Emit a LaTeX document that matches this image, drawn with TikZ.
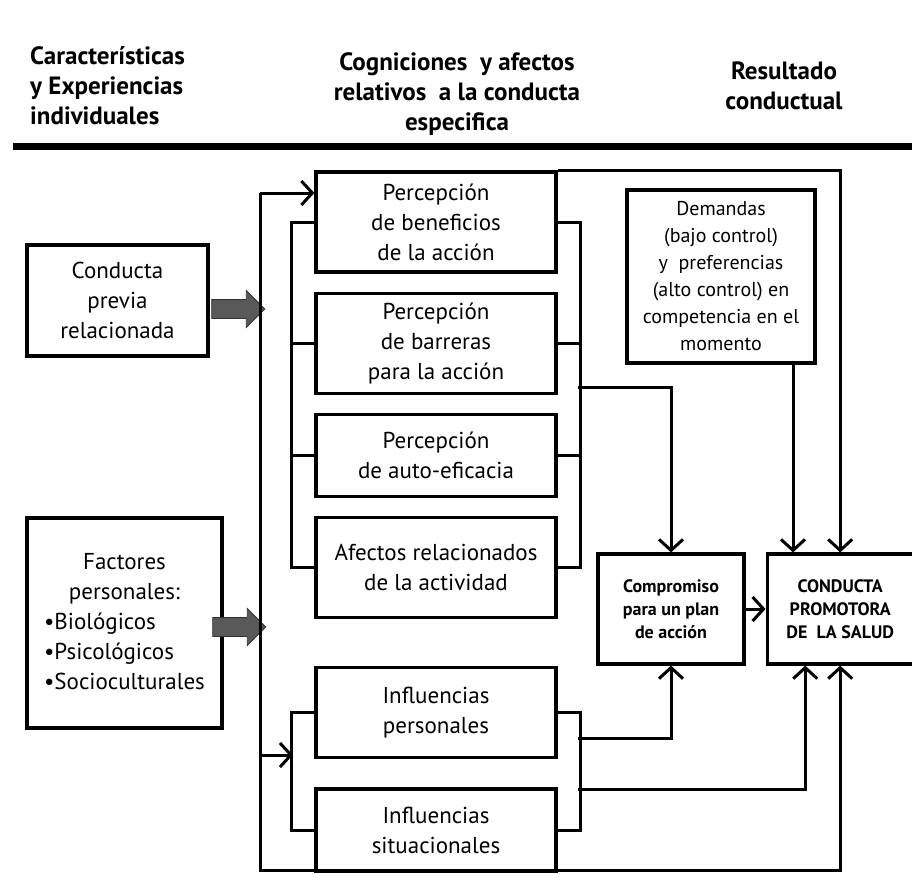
\documentclass[tikz,border=0pt]{standalone}
\usepackage{fontspec}
\setmainfont{PT Sans}
\usepackage{tikz}
\usetikzlibrary{arrows.meta,positioning,shapes.arrows}
\tikzstyle{box} = [
  draw,
  rectangle,
  line width=3.2pt,
  inner sep=0pt,
  align=center,
  font=\fontsize{23}{30}\selectfont,
]
\tikzstyle{cogbox} = [
  box,
  minimum width=240pt,
]
\tikzstyle{heading} = [
  inner sep=0pt,
  font=\bfseries\fontsize{25}{30}\selectfont,
]
\tikzstyle{fatarrow} = [
  single arrow,
  draw=black!80,
  fill=black!65,
  line width=0.8pt,
  inner xsep=0pt,
  inner ysep=9pt,
  minimum height=53pt,
  single arrow head extend=9pt,
  single arrow head indent=0pt,
]
\tikzstyle{link} = [
  line width=3pt,
]

\begin{document}
\begin{tikzpicture}[
    x=1pt,
    y=-1pt,
    >={Straight Barb[length=11pt,width=24pt]},
  ]
  \useasboundingbox (0,0) rectangle (912,873);
  % column headings
  \node[
    heading,
    anchor=west,
    align=left,
  ](hind) at (30,86) {Características\\y Experiencias\\individuales};
  \node[
    heading,
    align=center,
  ](hcog) at (457,94) {Cogniciones\ \ y afectos\\relativos\ \ a la conducta\\especifica};
  \node[
    heading,
    align=center,
  ](hres) at (784,86) {Resultado\\conductual};
  \coordinate (ruleL) at (13,146);
  \coordinate (ruleR) at (912,146);
  \draw[line width=7pt] (ruleL) -- (ruleR);
  % individual characteristics
  \node[
    box,
    minimum width=181pt,
    minimum height=111pt,
  ](previa) at (117.5,300.5) {Conducta\\previa\\relacionada};
  \node[
    box,
    minimum width=195pt,
    minimum height=210pt,
  ](factores) at (124.5,623) {%
    \begin{tabular}{@{}l@{}}
      \multicolumn{1}{@{}c@{}}{Factores}\\
      \multicolumn{1}{@{}c@{}}{personales:}\\
      •Biológicos\\
      •Psicológicos\\
      •Socioculturales
    \end{tabular}};
  \node[fatarrow](prevarrow) at (233.5,309) {};
  \node[fatarrow](factarrow) at (234.5,627) {};
  % cognitions and affects
  \node[
    cogbox,
    minimum height=100pt,
  ](benef) at (436,222) {Percepción\\de beneficios\\de la acción};
  \node[
    cogbox,
    minimum height=100pt,
    below=18pt of benef,
  ](barr) {Percepción\\de barreras\\para la acción};
  \node[
    cogbox,
    minimum height=82pt,
    below=18pt of barr,
  ](efic) {Percepción\\de auto-eficacia};
  \node[
    cogbox,
    minimum height=100pt,
    below=18pt of efic,
  ](afect) {Afectos relacionados\\de la actividad};
  \node[
    cogbox,
    minimum height=90pt,
    below=47pt of afect,
  ](inflp) {Influencias\\personales};
  \node[
    cogbox,
    minimum height=82pt,
    below=28pt of inflp,
  ](infls) {Influencias\\situacionales};
  \node[
    box,
    minimum width=188pt,
    minimum height=173pt,
    font=\fontsize{20}{27}\selectfont,
  ](dem) at (721,276.5) {Demandas\\(bajo control)\\y\ \ preferencias\\(alto control) en\\competencia en el\\momento};
  % behavioural outcome
  \node[
    box,
    minimum width=146pt,
    minimum height=110pt,
    font=\bfseries\fontsize{18}{23}\selectfont,
  ](comp) at (671,609) {Compromiso\\para un plan\\de acción};
  \node[
    box,
    minimum width=146pt,
    minimum height=110pt,
    font=\bfseries\fontsize{18}{23}\selectfont,
    right=20pt of comp,
  ](cond) {CONDUCTA\\PROMOTORA\\DE~~LA SALUD};
  % spine
  \coordinate (spinetop) at (260,193);
  \coordinate (spinemid) at (260,755);
  \coordinate (spinebot) at (260,870);
  \coordinate (inbrk) at (293,755);
  \draw[link,->] (spinetop) -- (spinetop -| benef.west);
  \draw[link,->] (spinetop) -- (spinebot) -| (cond.south);
  \draw[link,->] (spinemid) -- (inbrk);
  % brackets
  \draw[link] (benef.west) -- ++(-23,0) |- (afect.west);
  \draw[link] (benef.east) -- ++(23,0) |- (afect.east);
  \foreach \n in {barr,efic} {
    \draw[link] (\n.west) -- ++(-23,0);
    \draw[link] (\n.east) -- ++(23,0);
  }
  \draw[link] (inflp.west) -- ++(-23,0) |- (infls.west);
  \draw[link] (inflp.east) -- ++(23,0) |- (infls.east);
  \coordinate (rjoin) at (578,387);
  \coordinate (injoinp) at (578,738);
  \coordinate (injoins) at (578,789);
  % links to the outcome
  \draw[link,->] (rjoin) -| (comp.north);
  \draw[link,->] (benef.north east) -| (cond.north);
  \draw[link,->] ([xshift=72pt]dem.south) -- ([xshift=72pt]dem.south |- cond.north);
  \draw[link,->] (injoinp) -| (comp.south);
  \draw[link,->] (injoins) -| ([xshift=-35pt]cond.south);
  \path [link,->] (comp) edge (cond);
\end{tikzpicture}
\end{document}
